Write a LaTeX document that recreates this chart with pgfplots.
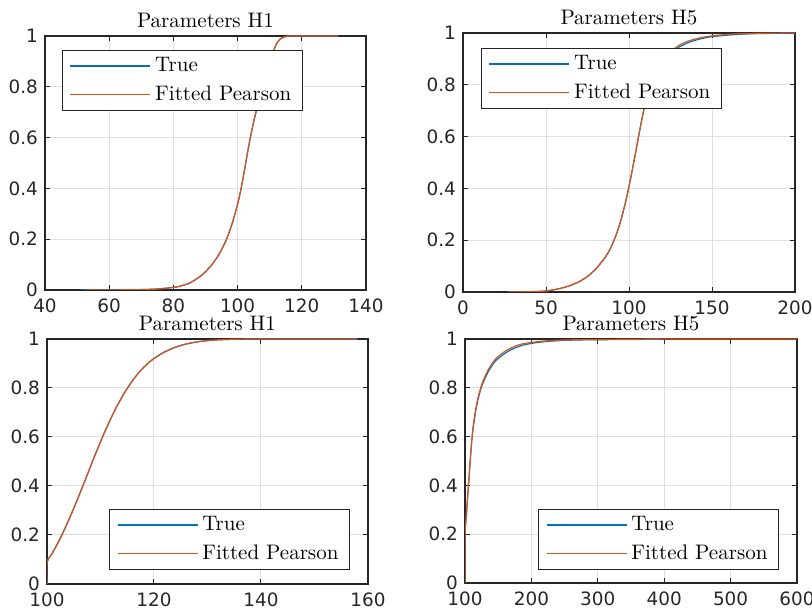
\documentclass[border=0pt]{standalone}
\usepackage{fontspec}
\usepackage{pgfplots}
\pgfplotsset{compat=1.18}
\newfontfamily\tickfont{DejaVu Sans}
\definecolor{mblue}{rgb}{0,0.447,0.741}
\definecolor{morange}{rgb}{0.85,0.325,0.098}
\definecolor{axgray}{rgb}{0.15,0.15,0.15}
\newcommand{\tfont}{\fontsize{10.5}{12}\selectfont}
\newcommand{\kfont}{\tickfont\fontsize{9.2}{10}\selectfont}
\pgfplotsset{mstyle/.style={
  scale only axis,
  axis line style={axgray, line width=0.6pt},
  grid=major, major grid style={gray!25, line width=0.5pt},
  tick align=inside, major tick length=2.5pt,
  tick style={axgray, line width=0.5pt},
  ticklabel style={font=\kfont, text=axgray},
  xticklabel style={yshift=-1pt},
  /pgf/number format/assume math mode=true,
  title style={font=\tfont, yshift=-5.5pt},
  ymin=0, ymax=1, ytick={0,0.2,0.4,0.6,0.8,1},
  legend cell align=left,
  legend style={draw=axgray, line width=0.6pt, fill=white, font=\tfont,
    inner xsep=3.5pt, inner ysep=1.5pt, row sep=1.5pt},
  legend image code/.code={\draw[#1, line width=0.8pt] (0pt,0pt) -- (40pt,0pt);},
  every axis plot/.append style={line width=0.6pt, smooth, tension=0.4},
}}
\begin{document}
\begin{tikzpicture}
\useasboundingbox (0pt,0pt) rectangle (406pt,307pt);
% top left
\begin{axis}[mstyle, at={(22.5pt,162pt)}, anchor=south west,
  width=160.5pt, height=127pt, xmin=40, xmax=140, xtick={40,60,80,100,120,140},
  title={Parameters H1},
  legend style={at={(0.053,0.945)}, anchor=north west}]
\addplot[color=mblue] coordinates {(50.9,0) (60,0.0003) (65,0.0007) (70,0.0015) (75,0.004) (80,0.01) (82,0.015) (85,0.027) (88,0.05) (90,0.072) (92,0.1) (94,0.136) (96,0.184) (97,0.2145) (98,0.25) (99,0.291) (100,0.338) (101,0.394) (102,0.462) (103,0.534) (104,0.602) (105,0.662) (106,0.714) (107,0.761) (108,0.807) (109,0.851) (110,0.895) (111,0.935) (112,0.966) (113,0.985) (114,0.994) (115,0.998) (116,0.9995) (118,1) (131.4,1)};
\addlegendentry{True}
\addplot[color=morange] coordinates {(52.5,0) (60,0.0003) (65,0.0007) (70,0.0015) (75,0.004) (80,0.01) (82,0.015) (85,0.027) (88,0.05) (90,0.072) (92,0.1) (94,0.136) (96,0.184) (97,0.2145) (98,0.25) (99,0.291) (100,0.338) (101,0.394) (102,0.462) (103,0.534) (104,0.602) (105,0.662) (106,0.714) (107,0.761) (108,0.807) (109,0.851) (110,0.895) (111,0.935) (112,0.966) (113,0.985) (114,0.994) (115,0.998) (116,0.9995) (118,1) (131.4,1)};
\addlegendentry{Fitted Pearson}
\end{axis}
% top right
\begin{axis}[mstyle, at={(231.5pt,161pt)}, anchor=south west,
  width=166pt, height=129.5pt, xmin=0, xmax=200, xtick={0,50,100,150,200},
  title={Parameters H5},
  legend style={at={(0.054,0.942)}, anchor=north west}]
\addplot[color=mblue] coordinates {(27,0) (35,0.0005) (40,0.001) (45,0.002) (50,0.004) (55,0.009) (60,0.016) (65,0.026) (70,0.04) (75,0.06) (80,0.089) (85,0.128) (88,0.158) (90,0.185) (92,0.216) (94,0.2535) (96,0.298) (98,0.3495) (100,0.408) (102,0.472) (104,0.5395) (106,0.6085) (108,0.675) (110,0.735) (112,0.781) (114,0.817) (116,0.846) (118,0.869) (120,0.888) (123,0.909) (126,0.926) (130,0.945) (135,0.961) (140,0.972) (145,0.98) (150,0.986) (160,0.992) (170,0.996) (180,0.998) (200,1)};
\addlegendentry{True}
\addplot[color=morange] coordinates {(27,0) (35,0.0005) (40,0.001) (45,0.002) (50,0.004) (55,0.009) (60,0.016) (65,0.026) (70,0.04) (75,0.06) (80,0.089) (85,0.128) (88,0.158) (90,0.185) (92,0.216) (94,0.2535) (96,0.298) (98,0.3495) (100,0.408) (102,0.472) (104,0.5395) (106,0.6085) (108,0.675) (110,0.735) (112,0.781) (114,0.817) (116,0.846) (118,0.87) (120,0.89) (123,0.914) (126,0.932) (130,0.952) (135,0.967) (140,0.977) (145,0.984) (150,0.989) (160,0.995) (170,0.998) (180,0.999) (200,1)};
\addlegendentry{Fitted Pearson}
\end{axis}
% bottom left
\begin{axis}[mstyle, at={(23.5pt,15pt)}, anchor=south west,
  width=160.5pt, height=122.5pt, xmin=100, xmax=160, xtick={100,120,140,160},
  title={Parameters H1},
  legend style={at={(0.944,0.057)}, anchor=south east}]
\addplot[color=mblue] coordinates {(100,0) (100.02,0.089) (101,0.126) (102,0.166) (103,0.21) (104,0.258) (105,0.309) (106,0.362) (107,0.4165) (108,0.472) (109,0.5275) (110,0.5805) (111,0.631) (112,0.6785) (113,0.7225) (114,0.7625) (115,0.7985) (116,0.8305) (117,0.8585) (118,0.8825) (119,0.903) (120,0.9205) (122,0.9475) (124,0.9665) (126,0.9795) (128,0.988) (130,0.9935) (132,0.9965) (135,0.999) (140,1) (158,1)};
\addlegendentry{True}
\addplot[color=morange] coordinates {(100,0) (100.02,0.089) (101,0.126) (102,0.166) (103,0.21) (104,0.258) (105,0.309) (106,0.362) (107,0.4165) (108,0.472) (109,0.5275) (110,0.5805) (111,0.631) (112,0.6785) (113,0.7225) (114,0.7625) (115,0.7985) (116,0.8305) (117,0.8585) (118,0.8825) (119,0.903) (120,0.9205) (122,0.9475) (124,0.9665) (126,0.9795) (128,0.988) (130,0.9935) (132,0.9965) (135,0.999) (140,1) (158,1)};
\addlegendentry{Fitted Pearson}
\end{axis}
% bottom right
\begin{axis}[mstyle, at={(232.5pt,15.5pt)}, anchor=south west,
  width=166pt, height=122pt, xmin=100, xmax=600, xtick={100,200,300,400,500,600},
  title={Parameters H5},
  legend style={at={(0.946,0.053)}, anchor=south east}]
\addplot[color=mblue] coordinates {(100,0) (100.05,0.2) (102,0.275) (104,0.355) (105,0.394) (106,0.43) (108,0.505) (110,0.575) (112,0.628) (114,0.668) (116,0.703) (118,0.732) (120,0.757) (125,0.805) (130,0.838) (135,0.866) (140,0.888) (145,0.907) (150,0.92) (160,0.941) (170,0.957) (175,0.963) (185,0.973) (200,0.982) (220,0.989) (240,0.993) (270,0.996) (300,0.997) (350,0.998) (394,0.999)};
\addlegendentry{True}
\addplot[color=morange] coordinates {(100,0) (100.05,0.2) (102,0.275) (104,0.355) (105,0.394) (106,0.43) (108,0.51) (110,0.58) (112,0.635) (114,0.675) (116,0.71) (118,0.74) (120,0.764) (125,0.812) (130,0.846) (135,0.874) (140,0.896) (145,0.915) (150,0.928) (160,0.949) (170,0.964) (175,0.97) (185,0.979) (200,0.986) (220,0.992) (240,0.995) (270,0.997) (300,0.998) (350,0.999) (400,1) (600,1)};
\addlegendentry{Fitted Pearson}
\end{axis}
\end{tikzpicture}
\end{document}
